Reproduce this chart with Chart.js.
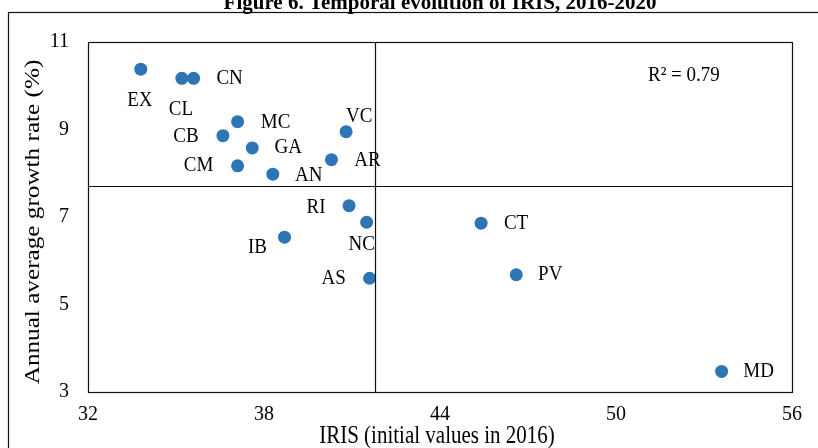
<!DOCTYPE html>
<html>
<head>
<meta charset="utf-8">
<script src="https://cdn.jsdelivr.net/npm/chart.js@4.4.1/dist/chart.umd.min.js"></script>
<style>
  html, body { margin: 0; padding: 0; background: #fff; }
  #wrap { width: 818px; height: 448px; }
</style>
</head>
<body>
<div id="wrap"><canvas id="myChart" width="818" height="448"></canvas></div>
<script>
// data
const regions = ["EX", "CL", "CN", "MC", "CB", "GA", "VC", "AR", "CM", "AN", "RI", "NC", "IB", "AS", "CT", "PV", "MD"];
const irisValues = [33.8, 35.2, 35.6, 37.1, 36.6, 37.6, 40.8, 40.3, 37.1, 38.3, 40.9, 41.5, 38.7, 41.6, 45.4, 46.6, 53.6];
const growthValues = [10.38, 10.17, 10.17, 9.18, 8.86, 8.58, 8.95, 8.31, 8.17, 7.98, 7.26, 6.88, 6.54, 5.6, 6.86, 5.68, 3.47];
const xTicks = [32, 38, 44, 50, 56];
const yTicks = [3, 5, 7, 9, 11];
const meanIris = 41.8;
const meanGrowth = 7.7;
const r2Text = "R\u00b2 = 0.79";

// where each label sits relative to its dot (px)
const labelOffsets = {
  EX: [-1, 31], CL: [-1, 31], CN: [36, 0], MC: [38, 1], CB: [-37, 1],
  GA: [36, 0], VC: [13, -15], AR: [36, 1], CM: [-39, 0], AN: [36, 1],
  RI: [-33, 2], NC: [-5, 22], IB: [-27, 10], AS: [-36, 0], CT: [35, 0],
  PV: [34, 0], MD: [37, 0]
};

const serif = "'Liberation Serif', 'Times New Roman', serif";

const points = irisValues.map(function (v, i) {
  return { x: v, y: growthValues[i] };
});

// text in the source figure is a little taller than wide
function stretchedText(ctx, text, x, y, sx, sy) {
  ctx.save();
  ctx.translate(x, y);
  ctx.scale(sx, sy);
  ctx.fillText(text, 0, 0);
  ctx.restore();
}

const decorations = {
  id: "decorations",
  afterDatasetsDraw: function (chart) {
    const ctx = chart.ctx;
    const area = chart.chartArea;
    const xs = chart.scales.x;
    const ys = chart.scales.y;
    ctx.save();
    ctx.strokeStyle = "#111";
    ctx.lineWidth = 1.2;

    // outer frame
    ctx.strokeRect(8.5, 12.5, 830, 460);

    // plot box
    ctx.strokeRect(Math.round(area.left) + 0.5, Math.round(area.top) + 0.5,
      Math.round(area.right - area.left), Math.round(area.bottom - area.top));

    // mean lines
    const mx = Math.round(xs.getPixelForValue(meanIris)) + 0.5;
    const my = Math.round(ys.getPixelForValue(meanGrowth)) + 0.5;
    ctx.beginPath();
    ctx.moveTo(mx, area.top);
    ctx.lineTo(mx, area.bottom);
    ctx.moveTo(area.left, my);
    ctx.lineTo(area.right, my);
    ctx.stroke();

    // point labels
    ctx.fillStyle = "#000";
    ctx.font = "19px " + serif;
    ctx.textAlign = "center";
    ctx.textBaseline = "middle";
    const meta = chart.getDatasetMeta(0);
    meta.data.forEach(function (el, i) {
      const off = labelOffsets[regions[i]] || [30, 0];
      stretchedText(ctx, regions[i], el.x + off[0], el.y + off[1], 1, 1.1);
    });

    // R squared
    ctx.textAlign = "left";
    stretchedText(ctx, r2Text, 648, 76, 1, 1.1);

    // title (cut by the top edge)
    ctx.font = "bold 21px " + serif;
    ctx.textAlign = "center";
    ctx.textBaseline = "alphabetic";
    ctx.fillText("Figure 6. Temporal evolution of IRIS, 2016-2020", 440, 9);

    // axis titles
    ctx.font = "21px " + serif;
    ctx.textBaseline = "middle";
    stretchedText(ctx, "IRIS (initial values in 2016)", 437, 437, 1, 1.15);
    ctx.translate(33, 222);
    ctx.rotate(-Math.PI / 2);
    stretchedText(ctx, "Annual average growth rate (%)", 0, 0, 1.2, 1);
    ctx.restore();
  }
};

new Chart("myChart", {
  type: "scatter",
  data: {
    datasets: [{
      data: points,
      backgroundColor: "#2E75B6",
      borderColor: "#2E75B6",
      pointRadius: 6.5,
      pointHoverRadius: 6.5,
      borderWidth: 0
    }]
  },
  options: {
    responsive: false,
    animation: false,
    layout: { padding: { left: 0, top: 42, right: 26, bottom: 0 } },
    plugins: {
      legend: { display: false },
      tooltip: { enabled: false }
    },
    scales: {
      x: {
        type: "linear",
        min: 32,
        max: 56,
        afterBuildTicks: function (s) { s.ticks = xTicks.map(function (v) { return { value: v }; }); },
        afterFit: function (s) { s.height = 56; },
        grid: { display: false, drawTicks: false },
        border: { display: false },
        ticks: { color: "#000", font: { family: serif, size: 20 }, padding: 11 }
      },
      y: {
        type: "linear",
        min: 3,
        max: 11,
        afterBuildTicks: function (s) { s.ticks = yTicks.map(function (v) { return { value: v }; }); },
        afterFit: function (s) { s.width = 88; },
        grid: { display: false, drawTicks: false },
        border: { display: false },
        ticks: { color: "#000", font: { family: serif, size: 20 }, padding: 19 }
      }
    }
  },
  plugins: [decorations]
});
</script>
</body>
</html>
